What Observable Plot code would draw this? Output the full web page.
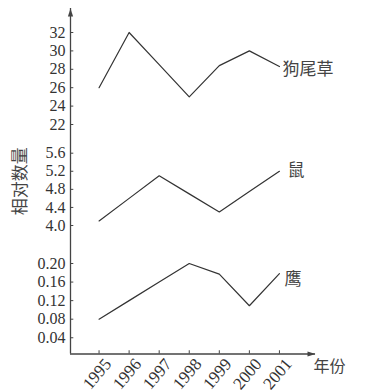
<!DOCTYPE html>
<html>
<head>
<meta charset="utf-8">
<script src="https://cdn.jsdelivr.net/npm/d3@7"></script>
<script src="https://cdn.jsdelivr.net/npm/@observablehq/plot@0.6"></script>
<style>
  body { margin: 0; background: #fff; }
</style>
</head>
<body>
<div id="chart"></div>
<script>
// ---- data ----
const years = [1995, 1996, 1997, 1998, 1999, 2000, 2001];
const grass = [26, 32, 28.5, 25, 28.4, 30, 28.3];      // 狗尾草
const mouse = [4.1, 4.6, 5.1, 4.7, 4.3, 4.75, 5.2];     // 鼠
const hawk  = [0.08, 0.12, 0.16, 0.20, 0.177, 0.109, 0.178]; // 鹰
const seriesNames = ["狗尾草", "鼠", "鹰"];
const yTickValues = [0.04, 0.08, 0.12, 0.16, 0.20, 4.0, 4.4, 4.8, 5.2, 5.6, 22, 24, 26, 28, 30, 32];
const yTickLabels = ["0.04", "0.08", "0.12", "0.16", "0.20", "4.0", "4.4", "4.8", "5.2", "5.6", "22", "24", "26", "28", "30", "32"];
const yTitle = "相对数量";
const xTitle = "年份";

// ---- derived table ----
const seriesValues = [grass, mouse, hawk];
const rows = [];
seriesNames.forEach((name, s) => years.forEach((year, i) => rows.push({series: name, year, value: seriesValues[s][i]})));
const lastRows = rows.filter(d => d.year === years[years.length - 1]);

// axis extents (data units) and broken-axis scale
const xExtent = [1994.05, 2002.2];
const yExtent = [0.005, 34.6];
const yDomain = [yExtent[0], 0.20, 4.0, 5.6, 22, 32, yExtent[1]];
const yRange = [353.5, 263, 225, 152.7, 124, 32, 8];

const ink = "#333";
const arrowUp = {
  draw(ctx) { ctx.moveTo(0, 0); ctx.lineTo(2.6, 8); ctx.lineTo(-2.6, 8); ctx.closePath(); }
};
const cjk = "'Noto Sans CJK SC', sans-serif";

const chart = Plot.plot({
  width: 369,
  height: 392,
  marginLeft: 70,
  marginRight: 54,
  marginTop: 8,
  marginBottom: 38.5,
  style: {fontFamily: "'Liberation Serif', serif", fontSize: "16px", color: ink, background: "#fff"},
  x: {type: "linear", domain: xExtent, range: [70, 315], axis: null},
  y: {type: "linear", domain: yDomain, range: yRange, axis: null},
  marks: [
    // axes lines
    Plot.ruleX([xExtent[0]], {x: d => d, y1: yExtent[0], y2: yExtent[1], stroke: "#444", strokeWidth: 1.3}),
    Plot.ruleY([yExtent[0]], {y: d => d, x1: xExtent[0], x2: xExtent[1], stroke: "#444", strokeWidth: 1.3}),
    Plot.dot([0], {x: () => xExtent[0], y: () => yExtent[1], symbol: arrowUp, r: 4, fill: "#444", stroke: null}),
    Plot.dot([0], {x: () => xExtent[1], y: () => yExtent[0], symbol: arrowUp, rotate: 90, r: 4, fill: "#444", stroke: null}),
    // ticks
    Plot.ruleY(yTickValues, {y: d => d, x1: xExtent[0], x2: xExtent[0] + 0.11, stroke: "#444", strokeWidth: 1}),
    Plot.ruleX(years, {x: d => d, y1: yExtent[0], y2: 0.012, stroke: "#444", strokeWidth: 1}),
    // tick labels
    Plot.axisY({ticks: yTickValues, tickSize: 0, tickPadding: 5, tickFormat: d => yTickLabels[yTickValues.indexOf(d)], fontSize: 16, label: null}),
    Plot.text(years, {x: d => d, y: () => yExtent[0], text: d => String(d), rotate: -50, textAnchor: "end", lineAnchor: "middle", dx: 9, dy: 7, fontSize: 17, fill: ink}),
    // titles
    Plot.text([yTitle], {frameAnchor: "left", text: d => d, rotate: -90, textAnchor: "middle", lineAnchor: "middle", dx: -50, fontSize: 17, fontFamily: cjk, fill: "#444"}),
    Plot.text([xTitle], {frameAnchor: "bottom-right", text: d => d, textAnchor: "start", lineAnchor: "middle", dx: -2, dy: 13, fontSize: 16, fontFamily: cjk, fill: "#444"}),
    // series
    Plot.line(rows, {x: "year", y: "value", z: "series", stroke: ink, strokeWidth: 1.2}),
    Plot.text(lastRows.filter(d => d.series === seriesNames[0]), {x: "year", y: "value", text: "series", textAnchor: "start", dx: 3, dy: 3, fontSize: 17, fontFamily: cjk, fill: "#444"}),
    Plot.text(lastRows.filter(d => d.series === seriesNames[1]), {x: "year", y: "value", text: "series", textAnchor: "start", dx: 8, dy: -1, fontSize: 17, fontFamily: cjk, fill: "#444"}),
    Plot.text(lastRows.filter(d => d.series === seriesNames[2]), {x: "year", y: "value", text: "series", textAnchor: "start", dx: 5, dy: 6, fontSize: 17, fontFamily: cjk, fill: "#444"})
  ]
});
document.getElementById("chart").appendChild(chart);
</script>
</body>
</html>
